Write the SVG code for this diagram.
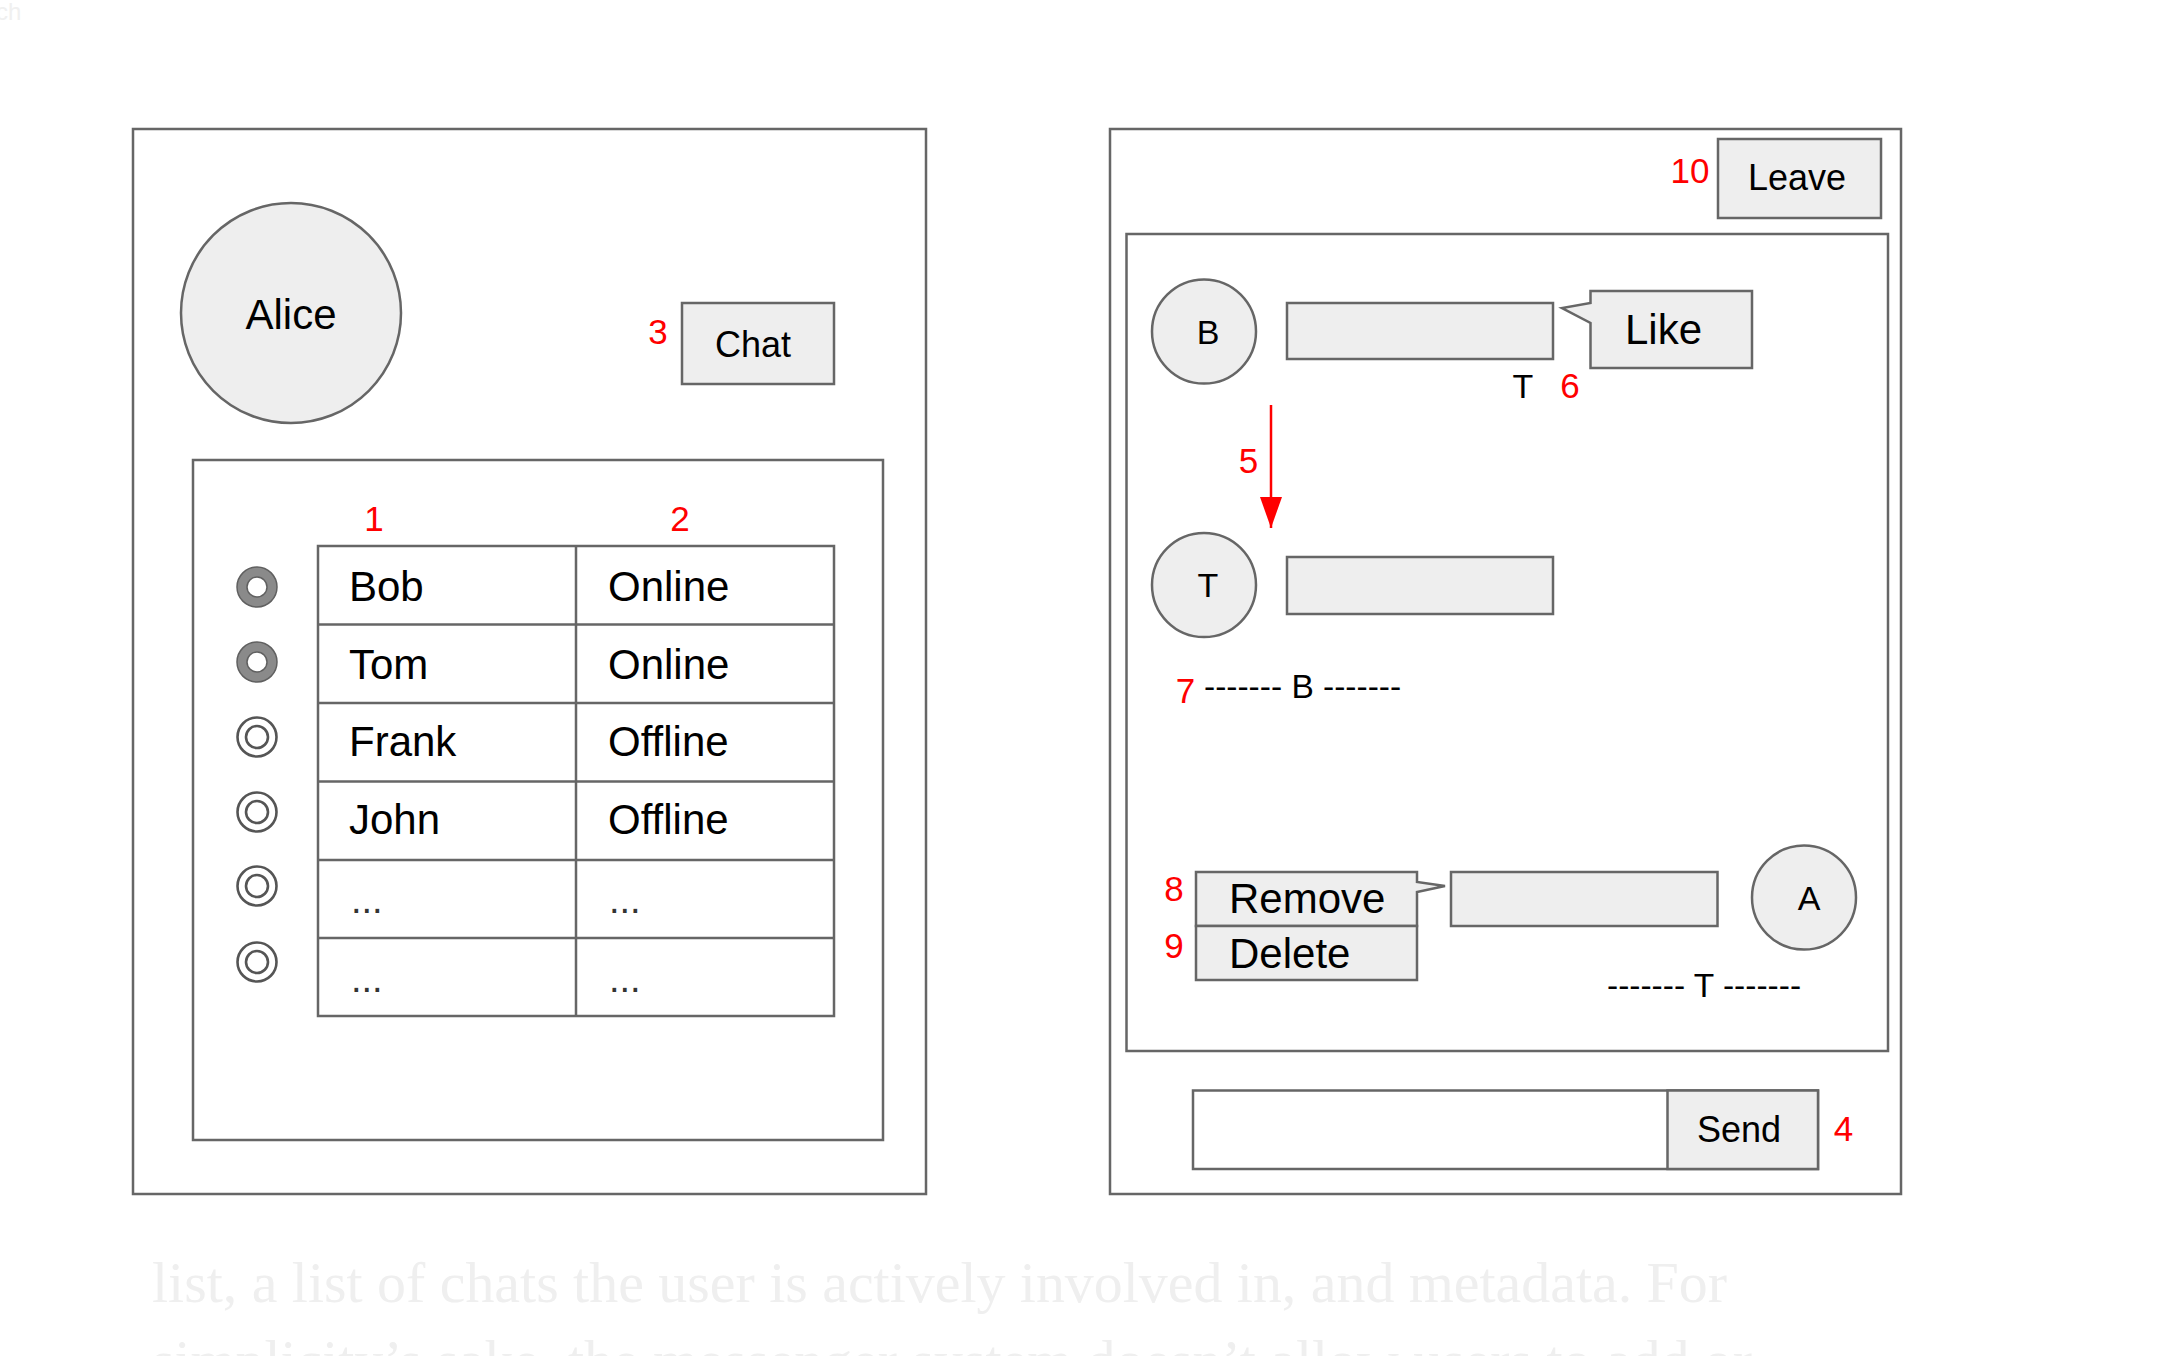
<svg xmlns="http://www.w3.org/2000/svg" width="2178" height="1356" viewBox="0 0 2178 1356">
<defs>
<style>
.box{fill:#ffffff;stroke:#666666;stroke-width:2.5}
.gbox{fill:#eeeeee;stroke:#666666;stroke-width:2.5}
.t{font-family:"Liberation Sans",Arial,sans-serif;fill:#000000}
.red{font-family:"Liberation Sans",Arial,sans-serif;fill:#ff0000;font-size:35px}
.faint{font-family:"Liberation Serif","Times New Roman",serif;fill:#efefef;font-size:58px}
.rsel{fill:none;stroke:#8a8a8a;stroke-width:10}
.rline{fill:none;stroke:#606060;stroke-width:1.5}
.roff{fill:#ffffff;stroke:#555555;stroke-width:2.6}
</style>
<marker id="arr" viewBox="0 0 32 22" refX="31" refY="11" markerWidth="32" markerHeight="22" markerUnits="userSpaceOnUse" orient="auto">
<path d="M0,0 L31,11 L0,22 Z" fill="#ff0000"/>
</marker>
</defs>
<rect width="2178" height="1356" fill="#ffffff"/>
<g id="background-text">
<text class="t" x="-4" y="20" font-size="24" style="fill:#f0f0f0">ch</text>
<text class="faint" x="152" y="1302" textLength="1575" lengthAdjust="spacingAndGlyphs">list, a list of chats the user is actively involved in, and metadata. For</text>
<text class="faint" x="152" y="1380" textLength="1600" lengthAdjust="spacingAndGlyphs">simplicity’s sake, the messenger system doesn’t allow users to add or</text>
</g>
<g id="contacts-screen">
<rect class="box" x="133" y="129" width="793" height="1065"/>
</g>
<g id="alice">
<circle class="gbox" cx="291" cy="313" r="110"/>
<text class="t" x="291" y="329" font-size="42" text-anchor="middle">Alice</text>
</g>
<g id="chat-button">
<rect class="gbox" x="682" y="303" width="152" height="81"/>
<text class="t" x="753" y="357" font-size="36" text-anchor="middle">Chat</text>
<text class="red" x="658" y="344" text-anchor="middle">3</text>
</g>
<g id="contact-list">
<rect class="box" x="193" y="460" width="690" height="680"/>
<text class="red" x="374" y="531" text-anchor="middle">1</text>
<text class="red" x="680" y="531" text-anchor="middle">2</text>
</g>
<g id="contact-table">
<rect class="box" x="318" y="546" width="516" height="470"/>
<line class="box" x1="576" y1="546" x2="576" y2="1016"/>
<line class="box" x1="318" y1="624.5" x2="834" y2="624.5"/>
<line class="box" x1="318" y1="703" x2="834" y2="703"/>
<line class="box" x1="318" y1="781.5" x2="834" y2="781.5"/>
<line class="box" x1="318" y1="860" x2="834" y2="860"/>
<line class="box" x1="318" y1="938" x2="834" y2="938"/>
<text class="t" x="349" y="601" font-size="42">Bob</text>
<text class="t" x="608" y="601" font-size="42">Online</text>
<text class="t" x="349" y="679" font-size="42">Tom</text>
<text class="t" x="608" y="679" font-size="42">Online</text>
<text class="t" x="349" y="756" font-size="42">Frank</text>
<text class="t" x="608" y="756" font-size="42">Offline</text>
<text class="t" x="349" y="834" font-size="42">John</text>
<text class="t" x="608" y="834" font-size="42">Offline</text>
<text class="t" x="351" y="913" font-size="38" style="fill:#333">...</text>
<text class="t" x="609" y="913" font-size="38" style="fill:#333">...</text>
<text class="t" x="351" y="992" font-size="38" style="fill:#333">...</text>
<text class="t" x="609" y="992" font-size="38" style="fill:#333">...</text>
</g>
<g id="radios">
<circle class="rsel" cx="257" cy="587" r="15"/>
<circle class="rline" cx="257" cy="587" r="20"/>
<circle class="rline" cx="257" cy="587" r="10" style="fill:#fff"/>
<circle class="rsel" cx="257" cy="662" r="15"/>
<circle class="rline" cx="257" cy="662" r="20"/>
<circle class="rline" cx="257" cy="662" r="10" style="fill:#fff"/>
<circle class="roff" cx="257" cy="737" r="19.5"/>
<circle class="roff" cx="257" cy="737" r="11"/>
<circle class="roff" cx="257" cy="812" r="19.5"/>
<circle class="roff" cx="257" cy="812" r="11"/>
<circle class="roff" cx="257" cy="886" r="19.5"/>
<circle class="roff" cx="257" cy="886" r="11"/>
<circle class="roff" cx="257" cy="962" r="19.5"/>
<circle class="roff" cx="257" cy="962" r="11"/>
</g>
<g id="chat-screen">
<rect class="box" x="1110" y="129" width="791" height="1065"/>
</g>
<g id="leave-button">
<rect class="gbox" x="1718" y="139" width="163" height="79"/>
<text class="t" x="1797" y="190" font-size="36" text-anchor="middle">Leave</text>
<text class="red" x="1690" y="183" text-anchor="middle">10</text>
</g>
<g id="messages">
<rect class="box" x="1126.5" y="234" width="761.5" height="817"/>
</g>
<g id="msg-b">
<circle class="gbox" cx="1204" cy="331.5" r="52"/>
<text class="t" x="1208" y="344" font-size="34" text-anchor="middle">B</text>
<rect class="gbox" x="1287" y="303" width="266" height="56"/>
<text class="t" x="1523" y="398" font-size="34" text-anchor="middle">T</text>
<text class="red" x="1570" y="398" text-anchor="middle">6</text>
</g>
<g id="like-callout">
<path class="gbox" d="M1590.5,291 L1752,291 L1752,368 L1590.5,368 L1590.5,323 L1562,308 L1590.5,303 Z"/>
<text class="t" x="1625" y="344" font-size="42">Like</text>
</g>
<g id="msg-t">
<circle class="gbox" cx="1204" cy="585" r="52"/>
<text class="t" x="1208" y="597" font-size="34" text-anchor="middle">T</text>
<rect class="gbox" x="1287" y="557" width="266" height="57"/>
</g>
<g id="separator-b">
<text class="red" x="1185.5" y="703" text-anchor="middle">7</text>
<text class="t" x="1204" y="698" font-size="33.5">------- B -------</text>
</g>
<g id="remove-delete-menu">
<path class="gbox" d="M1196,872 L1417,872 L1417,882 L1445,886 L1417,892 L1417,926 L1196,926 Z"/>
<rect class="gbox" x="1196" y="926" width="221" height="54"/>
<text class="t" x="1229" y="913" font-size="42">Remove</text>
<text class="t" x="1229" y="968" font-size="42">Delete</text>
<text class="red" x="1174" y="901" text-anchor="middle">8</text>
<text class="red" x="1174" y="958" text-anchor="middle">9</text>
</g>
<g id="msg-a">
<rect class="gbox" x="1451" y="872" width="266.5" height="54"/>
<circle class="gbox" cx="1804" cy="897.5" r="52"/>
<text class="t" x="1809" y="910" font-size="34" text-anchor="middle">A</text>
</g>
<g id="separator-t">
<text class="t" x="1607" y="997" font-size="33.5">------- T -------</text>
</g>
<g id="input-bar">
<rect class="box" x="1193" y="1090.5" width="625" height="78.5"/>
<rect class="gbox" x="1667.5" y="1090.5" width="150.5" height="78.5"/>
<text class="t" x="1739" y="1142" font-size="36" text-anchor="middle">Send</text>
<text class="red" x="1843.5" y="1141" text-anchor="middle">4</text>
</g>
<g id="connectors">
<line x1="1271" y1="405" x2="1271" y2="528" stroke="#ff0000" stroke-width="2.5" marker-end="url(#arr)"/>
<text class="red" x="1248.5" y="473" text-anchor="middle">5</text>
</g>
</svg>
